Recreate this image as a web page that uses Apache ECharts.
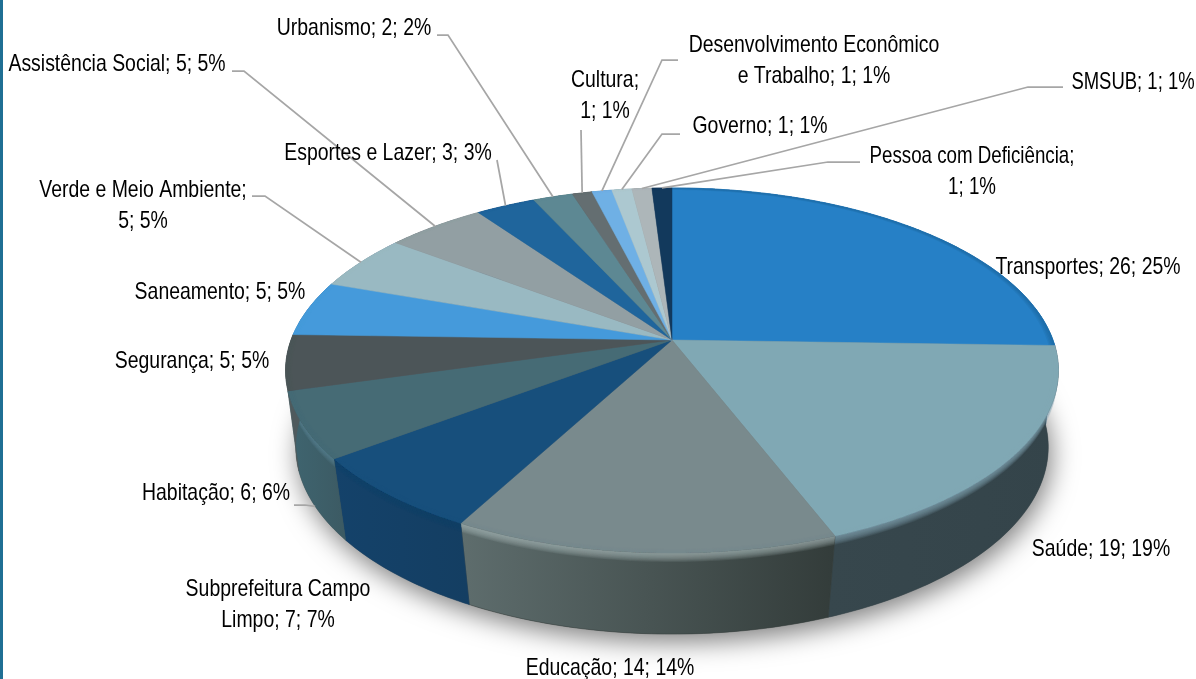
<!DOCTYPE html>
<html>
<head>
<meta charset="utf-8">
<title>Pie</title>
<script src="https://cdn.jsdelivr.net/npm/echarts@6/dist/echarts.min.js"></script>
<style>
html, body { margin: 0; padding: 0; background: #fff; }
#echart { width: 1196px; height: 679px; }
</style>
</head>
<body>
<div id="echart"></div>
<script>
var categories = ['Transportes', 'Saúde', 'Educação', 'Subprefeitura Campo Limpo', 'Habitação', 'Segurança', 'Saneamento', 'Verde e Meio Ambiente', 'Assistência Social', 'Esportes e Lazer', 'Urbanismo', 'Cultura', 'Desenvolvimento Econômico e Trabalho', 'Governo', 'SMSUB', 'Pessoa com Deficiência'];
var values = [26, 19, 14, 7, 6, 5, 5, 5, 5, 3, 2, 1, 1, 1, 1, 1];
var percents = [25, 19, 14, 7, 6, 5, 5, 5, 5, 3, 2, 1, 1, 1, 1, 1];

var topColors = ['#2680c6', '#80a8b4', '#798a8d', '#174f7c', '#466b75', '#4c5558', '#459adb', '#99b9c2', '#929fa3', '#1f659c', '#5d8893', '#646e71', '#6fb0e5', '#acc8d0', '#adb6b9', '#12395c'];
var wallLeft = ['#1b5c8f', '#37474d', '#5e6d6d', '#14426a', '#3f6570', '#4f5a5d', '#2f6f9f', '#6f8a92', '#6b777a', '#174a72', '#44646c', '#485053', '#5080a6', '#7d9198', '#7d8486', '#0d2a44'];
var wallRight = ['#1b5c8f', '#34444a', '#333c3a', '#143e62', '#3c5a63', '#4f5a5d', '#2f6f9f', '#6f8a92', '#6b777a', '#174a72', '#44646c', '#485053', '#5080a6', '#7d9198', '#7d8486', '#0d2a44'];
var bevelColors = ['#2680c6', '#80a8b4', '#a3b3b5', '#14426a', '#5b8591', '#5d686b', '#459adb', '#99b9c2', '#929fa3', '#1f659c', '#5d8893', '#646e71', '#6fb0e5', '#acc8d0', '#adb6b9', '#12395c'];
var rimColors = ['#1b5c8f', '#80a8b4', '#798a8d', '#174f7c', '#466b75', '#4c5558', '#459adb', '#99b9c2', '#929fa3', '#1f659c', '#5d8893', '#646e71', '#6fb0e5', '#acc8d0', '#adb6b9', '#12395c'];

// label position, optional line break, width and leader line
var labelLayout = [
    {x: 1088, y: 267},
    {x: 1101, y: 549},
    {x: 610, y: 668},
    {x: 278, y: 605, wrap: 'Campo'},
    {x: 216, y: 493, elbow: [[294, 505], [305, 505]], onBase: true},
    {x: 192, y: 361},
    {x: 220, y: 292},
    {x: 143, y: 206, wrap: 'Ambiente;', elbow: [[252, 196], [265, 196]]},
    {x: 117, y: 64, elbow: [[232, 71], [244, 71]]},
    {x: 388, y: 153, elbow: [[497, 160]]},
    {x: 354, y: 28, elbow: [[437, 35], [448, 35]]},
    {x: 605, y: 96, wrap: 'Cultura;', elbow: [[581, 130]]},
    {x: 814, y: 61, wrap: 'Econômico', elbow: [[678, 60], [662, 60]]},
    {x: 760, y: 126, elbow: [[680, 134], [662, 134]]},
    {x: 1133, y: 82, sx: 0.77, elbow: [[1063, 87], [1028, 87]]},
    {x: 972, y: 172, sx: 0.78, wrap: 'Deficiência;', elbow: [[860, 162], [828, 162]]}
];

var total = values.reduce(function (a, b) { return a + b; }, 0);
var cum = [0];
values.forEach(function (v, i) { cum.push(cum[i] + v); });

// the disc is seen in perspective, top face and base have their own projection
var cx = 672;
var topDisc = {r: 381, a: 120.7, b: 340, c: -0.167};
var baseDisc = {r: 372, a: 120, b: 419, c: -0.15};

function project(disc, ang, rad) {
    var u = Math.sin(ang) * rad;
    var v = -Math.cos(ang) * rad;
    var w = 1 + disc.c * v;
    return [cx + disc.r * u / w, (disc.a * v + disc.b) / w];
}

function lerp(p, q, f) {
    return [p[0] + (q[0] - p[0]) * f, p[1] + (q[1] - p[1]) * f];
}

function sliceAngles(i) {
    var a0 = cum[i] / total * Math.PI * 2;
    var a1 = cum[i + 1] / total * Math.PI * 2;
    var n = Math.max(2, Math.ceil((a1 - a0) / 0.015));
    var list = [];
    for (var k = 0; k <= n; k++) list.push(a0 + (a1 - a0) * k / n);
    return list;
}

function wallPoints(i, f) {
    var angs = sliceAngles(i);
    var upper = angs.map(function (a) { return project(topDisc, a, 1); });
    var lower = angs.map(function (a) { return lerp(project(topDisc, a, 1), project(baseDisc, a, 1), f); });
    return upper.concat(lower.reverse());
}

function rimPoints(i, rad) {
    var angs = sliceAngles(i);
    var outer = angs.map(function (a) { return project(topDisc, a, 1); });
    var inner = angs.map(function (a) { return project(topDisc, a, rad); });
    return outer.concat(inner.reverse());
}

function renderWall(params) {
    var i = params.dataIndex;
    var children = [{
        type: 'polygon',
        shape: {points: wallPoints(i, 1)},
        style: {
            fill: new echarts.graphic.LinearGradient(0, 0, 1, 0, [
                {offset: 0, color: wallLeft[i]},
                {offset: 1, color: wallRight[i]}
            ]),
            stroke: wallRight[i],
            lineWidth: 0.5
        }
    }];
    // soft bevel along the top rim
    for (var k = 10; k >= 1; k--) {
        children.push({
            type: 'polygon',
            shape: {points: wallPoints(i, k * 0.011)},
            style: {fill: bevelColors[i], opacity: 0.12}
        });
    }
    return {type: 'group', children: children};
}

function renderTop(params) {
    var i = params.dataIndex;
    var pts = [project(topDisc, 0, 0)];
    sliceAngles(i).forEach(function (a) { pts.push(project(topDisc, a, 1)); });
    var children = [{
        type: 'polygon',
        shape: {points: pts},
        style: {fill: topColors[i], stroke: topColors[i], lineWidth: 0.5}
    }];
    for (var k = 4; k >= 1; k--) {
        children.push({
            type: 'polygon',
            shape: {points: rimPoints(i, 1 - k * 0.004)},
            style: {fill: rimColors[i], opacity: 0.16}
        });
    }
    return {type: 'group', children: children};
}

function renderShadow() {
    var pts = [];
    for (var k = 0; k < 360; k++) pts.push(project(baseDisc, k / 180 * Math.PI, 1));
    return {
        type: 'polygon',
        shape: {points: pts},
        style: {fill: '#666', shadowBlur: 26, shadowColor: 'rgba(0,0,0,0.5)', shadowOffsetX: 3, shadowOffsetY: 8}
    };
}

function renderLeader(params) {
    var i = params.dataIndex;
    var lay = labelLayout[i];
    if (!lay.elbow) return null;
    var mid = (cum[i] + values[i] / 2) / total * Math.PI * 2;
    var end = project(lay.onBase ? baseDisc : topDisc, mid, 1);
    return {
        type: 'polyline',
        shape: {points: lay.elbow.concat([end])},
        style: {fill: 'none', stroke: '#a6a6a6', lineWidth: 1.75}
    };
}

function renderLabel(params) {
    var i = params.dataIndex;
    var lay = labelLayout[i];
    var txt = categories[i] + '; ' + values[i] + '; ' + percents[i] + '%';
    if (lay.wrap) txt = txt.replace(lay.wrap + ' ', lay.wrap + '\n');
    return {
        type: 'text',
        x: lay.x,
        y: lay.y,
        scaleX: lay.sx || 0.81,
        style: {
            text: txt,
            x: 0,
            y: 0,
            align: 'center',
            verticalAlign: 'middle',
            fill: '#000',
            font: '24px "Liberation Sans", sans-serif',
            lineHeight: 31
        }
    };
}

function layer(render, z) {
    return {
        type: 'custom',
        coordinateSystem: 'none',
        renderItem: render,
        data: values,
        silent: true,
        animation: false,
        z: z
    };
}

var myChart = echarts.init(document.getElementById('echart'));
var option = {
    backgroundColor: '#fff',
    animation: false,
    graphic: [{
        type: 'rect',
        shape: {x: 0, y: 0, width: 3, height: 679},
        style: {fill: '#1f6f94'}
    }],
    series: [
        {
            type: 'custom',
            coordinateSystem: 'none',
            renderItem: renderShadow,
            data: [0],
            silent: true,
            animation: false,
            z: 1
        },
        layer(renderWall, 2),
        layer(renderTop, 3),
        layer(renderLeader, 4),
        layer(renderLabel, 5)
    ]
};
myChart.setOption(option);
window.onresize = myChart.resize;
</script>
</body>
</html>
